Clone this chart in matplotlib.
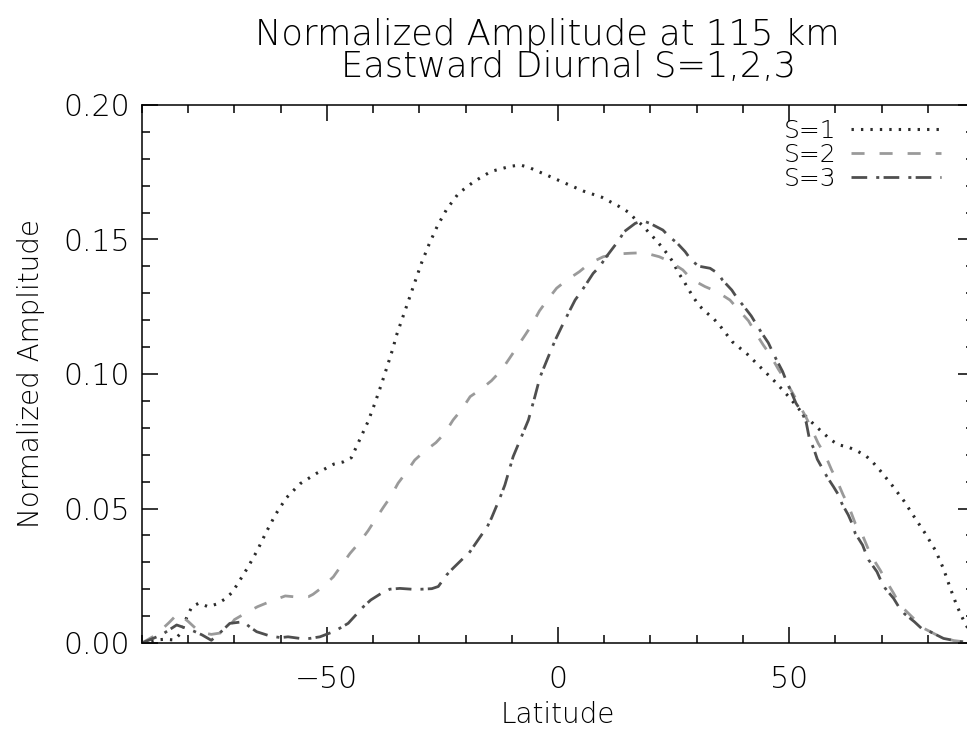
import matplotlib
matplotlib.use("Agg")
import matplotlib.pyplot as plt
from matplotlib.ticker import MultipleLocator, FormatStrFormatter

# Latitude / amplitude pairs
lat_s1 = [-90, -87.2, -85, -83, -81.8, -80.2, -79.2, -77.7, -75.7, -73.8, -72, -70.5,
          -69.3, -67, -65, -63.1, -61.1, -58.8, -55.8, -52.2, -48.5, -46.5, -44.7,
          -42.9, -41.1, -39.6, -38.2, -36.9, -35.6, -35.1, -33, -31, -29.5, -27.9,
          -26.1, -24.1, -21.5, -18.2, -14.5, -10.3, -8.2, -6.3, -2.4, 1.6, 5.5, 9.5,
          13.3, 15.2, 16.7, 18.2, 19.7, 21.2, 22.7, 23.9, 25.0, 25.9, 27.1, 28.2,
          29.3, 30.5, 32.0, 33.6, 35.1, 37.7, 41.0, 44.1, 47.1, 49.9, 52.7, 55.7,
          58.9, 60.6, 62.7, 64.7, 66.6, 68.1, 69.6, 72.2, 74.8, 77.1, 79.5, 81.7,
          83.4, 84.8, 86.3, 88.1, 90]
amp_s1 = [0.0, 0.0011, 0.0014, 0.0011, 0.0033, 0.0100, 0.0135, 0.0148, 0.0135, 0.0145,
          0.0164, 0.0188, 0.0220, 0.0284, 0.0346, 0.0413, 0.0478, 0.0539, 0.0592,
          0.0631, 0.0665, 0.0673, 0.0689, 0.0756, 0.0823, 0.0892, 0.0962, 0.1031,
          0.1101, 0.1136, 0.1240, 0.1340, 0.1414, 0.1482, 0.1550, 0.1612, 0.1672,
          0.1715, 0.1753, 0.1772, 0.1777, 0.1768, 0.1739, 0.1709, 0.1680, 0.1657,
          0.1622, 0.1602, 0.1576, 0.1554, 0.1525, 0.1498, 0.1467, 0.1441, 0.1413,
          0.1380, 0.1349, 0.1316, 0.1285, 0.1255, 0.1230, 0.1207, 0.1178, 0.1120,
          0.1073, 0.1020, 0.0969, 0.0916, 0.0858, 0.0807, 0.0757, 0.0737, 0.0729,
          0.0714, 0.0696, 0.0672, 0.0643, 0.0588, 0.0529, 0.0468, 0.0406, 0.0343,
          0.0276, 0.0207, 0.0138, 0.0071, 0.0020]

lat_s2 = [-90, -87, -84.2, -82.2, -80, -77.5, -75, -72, -70, -67.7, -65, -62.3, -59,
          -56, -54, -53, -51, -48.6, -46.8, -45, -43, -41.1, -39.6, -37.8, -36.2,
          -34.6, -32.9, -31, -29, -26.4, -24.5, -22.7, -20.8, -19, -16.7, -14.4,
          -12.2, -10.5, -8.9, -7.1, -5.7, -4.0, -2.3, -0.3, 1.9, 4.6, 6.9, 9.8, 12.7,
          15.7, 18.6, 21.9, 24.2, 27, 28.9, 31.8, 34.4, 37.2, 39, 41.2, 42.6, 44.4,
          45.9, 47.7, 49.1, 50.8, 52, 53.7, 54.8, 56.3, 57.8, 59.2, 60.3, 61.7, 62.8,
          64.3, 65.7, 67.2, 68.1, 69.7, 71.1, 72.6, 74, 76.9, 78.4, 82.7, 85.6, 90]
amp_s2 = [0.0, 0.003, 0.0075, 0.011, 0.008, 0.004, 0.0032, 0.004, 0.0087, 0.011,
          0.0135, 0.0154, 0.0175, 0.0170, 0.0172, 0.0181, 0.0207, 0.0246, 0.0290,
          0.0333, 0.0373, 0.0417, 0.0457, 0.0504, 0.0544, 0.0594, 0.0633, 0.0680,
          0.0711, 0.0745, 0.0780, 0.0829, 0.0869, 0.0916, 0.0943, 0.0975, 0.1015,
          0.1058, 0.1099, 0.1145, 0.1182, 0.1235, 0.1275, 0.1319, 0.1349, 0.1380,
          0.1412, 0.1436, 0.1446, 0.1449, 0.1451, 0.1436, 0.1418, 0.1387, 0.1352,
          0.1325, 0.1306, 0.1275, 0.1240, 0.1198, 0.1157, 0.1108, 0.1071, 0.1017,
          0.0980, 0.0928, 0.0891, 0.0838, 0.0798, 0.0742, 0.0699, 0.0643, 0.0606,
          0.0550, 0.0513, 0.0445, 0.0408, 0.0346, 0.0315, 0.0271, 0.0228, 0.0185,
          0.0141, 0.0092, 0.0061, 0.0023, 0.0009, 0.0]

lat_s3 = [-90, -85.8, -82.5, -79.3, -77, -75, -73, -71, -68.1, -66.7, -65.2, -62.3,
          -60, -58.4, -55.8, -53.7, -51.5, -48.6, -47.2, -45.4, -42.1, -40.5, -38.2,
          -36.4, -34.2, -31.7, -29.5, -27.3, -25.9, -24.1, -22.7, -20.5, -19.3, -18.3,
          -16.3, -15.3, -14.4, -12.6, -11.5, -9.7, -7.9, -6.4, -5.0, -3.9, -2.1, -0.6,
          0.8, 2.6, 3.7, 5.0, 6.2, 7.6, 9.1, 10.2, 12.0, 13.2, 14.3, 16.7, 18.3, 19.9,
          22.7, 24.1, 25.7, 27.5, 28.8, 30.4, 32.9, 34.6, 35.6, 37.6, 38.8, 40, 41.8,
          42.9, 43.9, 45.5, 46.4, 47.2, 48.6, 49.3, 50.1, 51.5, 52.7, 53.7, 54.4,
          55.3, 56.1, 57.1, 58.2, 59.6, 60.7, 61.4, 62.8, 63.6, 64.3, 65.9, 66.6,
          67.2, 69.0, 69.8, 70.8, 72.6, 73.7, 75.0, 77.1, 78.6, 80.5, 83.4, 85.2,
          87, 90]
amp_s3 = [0.0, 0.003, 0.0067, 0.0048, 0.003, 0.001, 0.004, 0.0073, 0.0079, 0.006,
          0.0042, 0.0026, 0.002, 0.0023, 0.0017, 0.0017, 0.0023, 0.0042, 0.0055,
          0.0073, 0.0135, 0.016, 0.0185, 0.020, 0.0203, 0.020, 0.020, 0.0202, 0.021,
          0.0253, 0.0278, 0.0315, 0.0333, 0.0358, 0.0408, 0.0432, 0.0464, 0.0538,
          0.0587, 0.0693, 0.0767, 0.0829, 0.0916, 0.0988, 0.1064, 0.1126, 0.1176,
          0.1238, 0.1275, 0.1306, 0.1337, 0.1374, 0.1401, 0.1430, 0.1471, 0.1498,
          0.1529, 0.1560, 0.1570, 0.1560, 0.1535, 0.1510, 0.1488, 0.1455, 0.1424,
          0.1401, 0.1393, 0.1374, 0.1349, 0.1312, 0.1281, 0.1256, 0.1216, 0.1185,
          0.1157, 0.1116, 0.1083, 0.1055, 0.1009, 0.0978, 0.0947, 0.0891, 0.0860,
          0.0820, 0.0758, 0.0724, 0.0683, 0.0652, 0.0618, 0.0581, 0.0550, 0.0519,
          0.0476, 0.0445, 0.0408, 0.0364, 0.0333, 0.0309, 0.0265, 0.0234, 0.0203,
          0.0166, 0.0135, 0.0108, 0.0079, 0.0055, 0.0042, 0.0017, 0.0011, 0.0005, 0.0]

series_labels = ["S=1", "S=2", "S=3"]
title_lines = ["Normalized Amplitude at 115 km", "Eastward Diurnal S=1,2,3"]

plt.rcParams["font.family"] = ["DejaVu Sans"]
plt.rcParams["font.weight"] = "light"
plt.rcParams["axes.labelweight"] = "light"
plt.rcParams["lines.scale_dashes"] = False

fig = plt.figure(figsize=(9.67, 7.31), dpi=100)
W, H = 967, 731
ax = fig.add_axes([142 / W, 88 / H, 832 / W, 538 / H])

# line styles as in the IDL plot: dotted, dashed, dash-dot
ax.plot(lat_s1, amp_s1, color="#2b2b2b", lw=2.2, linestyle=(0, (1.7, 5.1)),
        label=series_labels[0])
ax.plot(lat_s2, amp_s2, color="#9a9a9a", lw=2.0, linestyle=(0, (9.4, 10.8)),
        label=series_labels[1])
ax.plot(lat_s3, amp_s3, color="#4f4f4f", lw=2.0, linestyle=(0, (11.3, 6.5, 2.2, 3.1)),
        label=series_labels[2])

ax.set_xlim(-90, 90)
ax.set_ylim(0, 0.20)
ax.xaxis.set_major_locator(MultipleLocator(50))
ax.xaxis.set_minor_locator(MultipleLocator(10))
ax.yaxis.set_major_locator(MultipleLocator(0.05))
ax.yaxis.set_minor_locator(MultipleLocator(0.01))
ax.yaxis.set_major_formatter(FormatStrFormatter("%.2f"))
ax.tick_params(which="both", direction="in", top=True, right=True, width=1.1,
               color="black", labelsize=21.5)
ax.tick_params(which="major", length=11.5)
ax.tick_params(which="minor", length=5.8)
ax.tick_params(axis="x", pad=16)
ax.tick_params(axis="y", pad=9)
for sp in ax.spines.values():
    sp.set_linewidth(1.1)

ax.set_xlabel("Latitude", fontsize=20, labelpad=5)
ax.set_ylabel("Normalized Amplitude", fontsize=20, labelpad=13)

# two title lines, each centred where IDL put it
fig.text(547 / W, 1 - 45 / H, title_lines[0], ha="center", va="baseline", fontsize=25.5)
fig.text(569 / W, 1 - 77 / H, title_lines[1], ha="center", va="baseline", fontsize=25.5)

ax.legend(loc="upper right", bbox_to_anchor=(941 / W, 1 - 119 / H),
          bbox_transform=fig.transFigure, frameon=False, markerfirst=False,
          fontsize=18, handlelength=3.6, handletextpad=0.6, labelspacing=0.0,
          borderpad=0, borderaxespad=0)

plt.savefig("out.png", dpi=100)
